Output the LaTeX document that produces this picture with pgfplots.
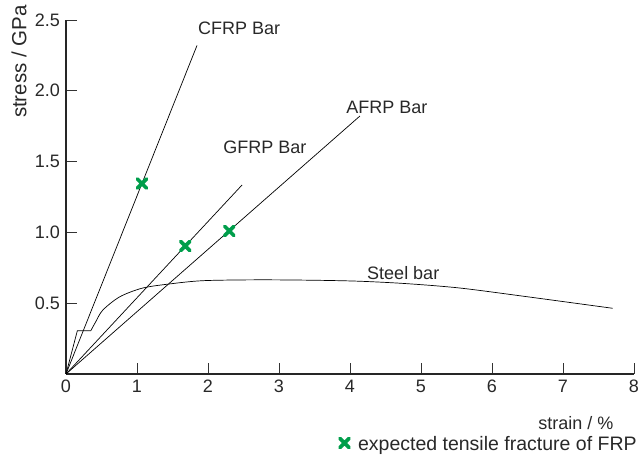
\documentclass[border=0pt]{standalone}
\usepackage{fontspec}
\setmainfont{Liberation Sans}
\usepackage{pgfplots}
\pgfplotsset{compat=1.18}
\definecolor{fgreen}{RGB}{0,158,75}
\definecolor{txt}{RGB}{40,40,40}
\begin{document}
\begin{tikzpicture}
\fontsize{18}{21}\selectfont
\path[use as bounding box] (-66pt,-88pt) rectangle (576pt,374pt);
\begin{axis}[
  at={(0,0)}, anchor=origin,
  scale only axis, width=568pt, height=354pt,
  xmin=0, xmax=8, ymin=0, ymax=2.5,
  axis lines=left,
  axis line style={-, line width=1.1pt, black!85},
  xtick={0,1,...,8},
  ytick={0.5,1.0,1.5,2.0,2.5},
  tick align=inside,
  major tick length=11pt,
  tick style={line width=0.9pt, black!80},
  yticklabel style={/pgf/number format/fixed, /pgf/number format/fixed zerofill, /pgf/number format/precision=1, text=txt},
  xticklabel style={text=txt},
  /pgf/number format/assume math mode=true,
  tick label style={font=\fontsize{18}{21}\selectfont},
  clip=false,
  legend style={at={(1.005,-0.195)}, anchor=east, draw=none, fill=none, inner sep=0pt,
    font=\fontsize{19.5}{23}\selectfont, text=txt,
    nodes={inner sep=0pt, text depth=0pt}},
  legend cell align=left,
  legend image code/.code={\draw[#1] plot coordinates {(0.15cm,0cm)};},
]
% CFRP
\addplot[black, line width=0.7pt, forget plot] coordinates {(0,0) (1.845,2.32)};
% GFRP
\addplot[black, line width=0.7pt, forget plot] coordinates {(0,0) (2.48,1.335)};
% AFRP
\addplot[black, line width=0.7pt, forget plot] coordinates {(0,0) (4.14,1.822)};
% Steel
\addplot[black, line width=0.7pt, forget plot] coordinates {(0,0) (0.16,0.306) (0.35,0.306)};
\addplot[black, line width=0.7pt, smooth, forget plot] coordinates {
  (0.35,0.306) (0.42,0.37) (0.52,0.452) (0.76,0.546) (1.08,0.607) (1.46,0.636) (1.93,0.659)
  (2.7,0.665) (3.5,0.662) (4.14,0.655) (4.8,0.638) (5.55,0.607) (6.49,0.546) (7.70,0.464)};
% markers
\addplot[only marks, mark=x, mark size=6.5pt, mark options={line width=3.6pt, line cap=round}, color=fgreen]
  coordinates {(1.07,1.345) (1.68,0.904) (2.30,1.01)};
\addlegendentry{\hspace{9pt}expected tensile fracture of FRP}
\node[text=txt, inner sep=0pt] at (axis cs:2.44,2.44) {CFRP Bar};
\node[text=txt, inner sep=0pt] at (axis cs:4.52,1.88) {AFRP Bar};
\node[text=txt, inner sep=0pt] at (axis cs:2.80,1.60) {GFRP Bar};
\node[text=txt, inner sep=0pt] at (axis cs:4.75,0.713) {Steel bar};
\node[text=txt, inner sep=0pt] at ([yshift=-49pt]axis cs:7.18,0) {strain / \%};
\node[text=txt, inner sep=0pt, rotate=90, anchor=east, font=\fontsize{20.5}{24}\selectfont] at ([xshift=-47pt,yshift=15pt]rel axis cs:0,1) {stress / GPa};
\end{axis}
\end{tikzpicture}
\end{document}
